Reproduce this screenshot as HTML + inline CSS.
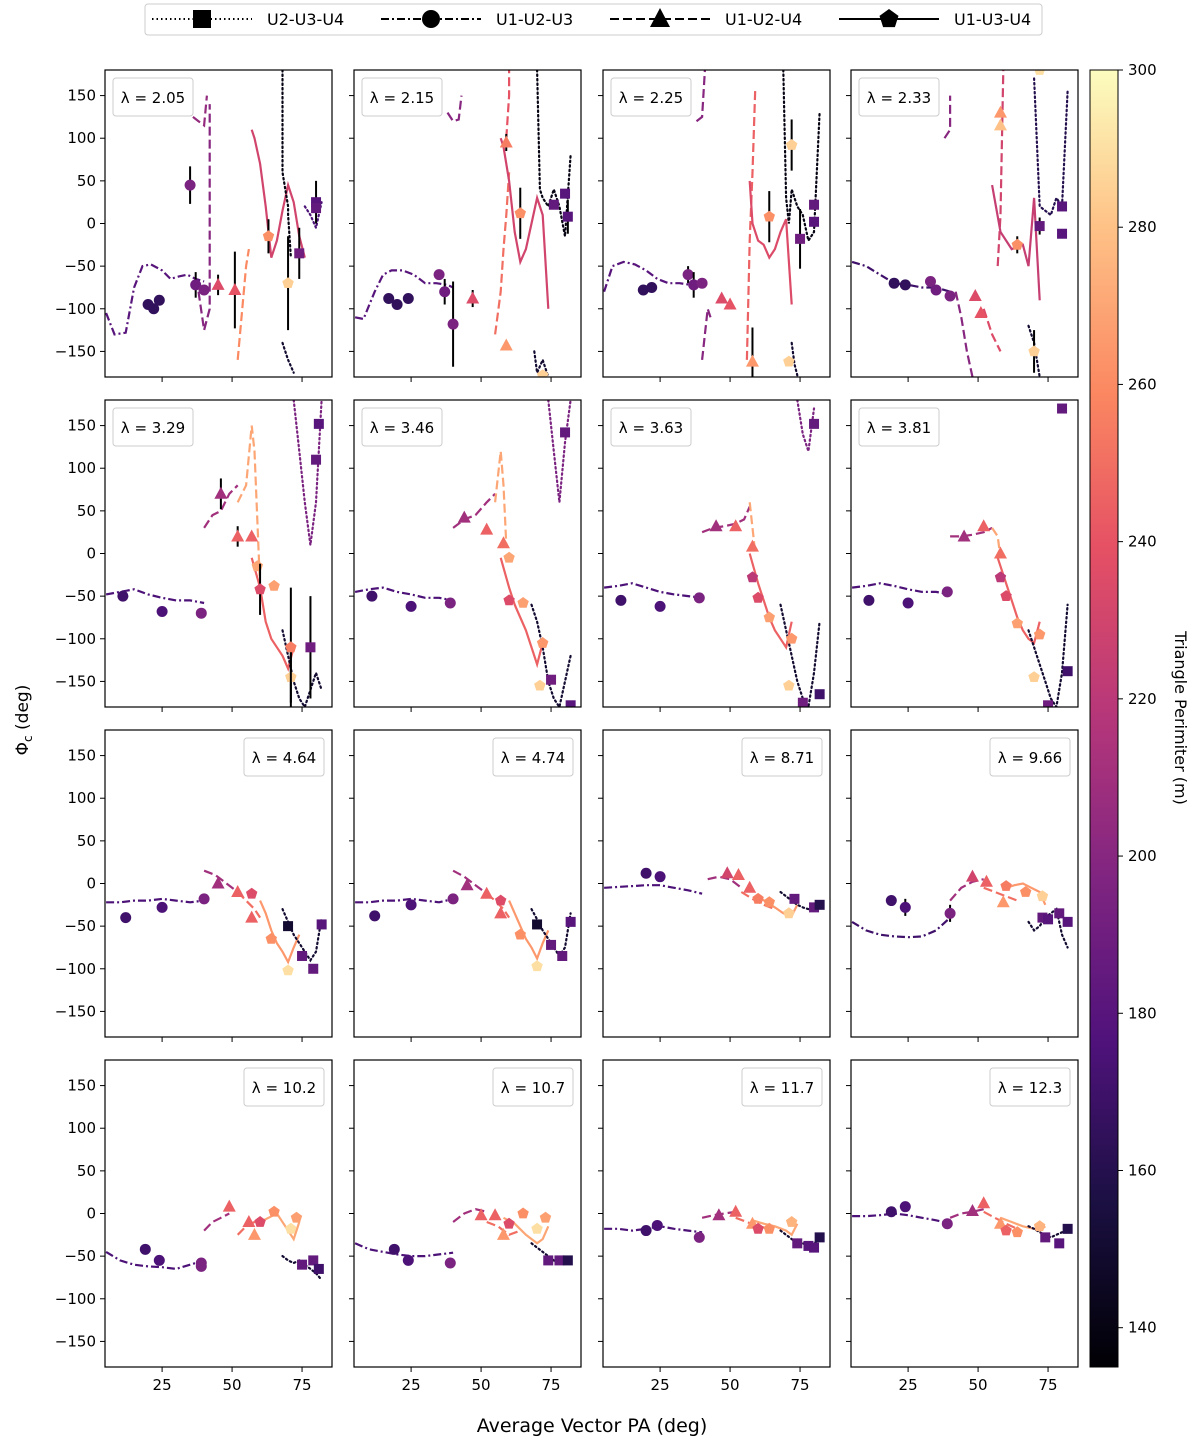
<!DOCTYPE html>
<html><head><meta charset="utf-8">
<style>
body{margin:0;background:#fff;font-family:"Liberation Sans","DejaVu Sans",sans-serif;}
svg text{font-family:"DejaVu Sans","Liberation Sans",sans-serif;}
</style></head>
<body>
<svg id="chart" width="1200" height="1447" viewBox="0 0 1200 1447" xmlns="http://www.w3.org/2000/svg">
<defs>
<linearGradient id="magma" x1="0" y1="1" x2="0" y2="0">
<stop offset="0" stop-color="#000004"/><stop offset="0.13" stop-color="#1c1044"/><stop offset="0.25" stop-color="#4f127b"/><stop offset="0.38" stop-color="#812581"/><stop offset="0.5" stop-color="#b5367a"/><stop offset="0.63" stop-color="#e55064"/><stop offset="0.75" stop-color="#fb8761"/><stop offset="0.88" stop-color="#fec287"/><stop offset="1" stop-color="#fcfdbf"/>
</linearGradient>
</defs>
<g id="root"></g>
</svg>
<script>
const lambdas=["2.05","2.15","2.25","2.33","3.29","3.46","3.63","3.81","4.64","4.74","8.71","9.66","10.2","10.7","11.7","12.3"];
const yTicks=[150,100,50,0,-50,-100,-150];
const xTicks=[25,50,75];
const cbTicks=[140,160,180,200,220,240,260,280,300];
// markers: [PA, phi, perimeter, shape, err]
const markersRow1=[
 [[20,-95,165,'c',0],[22,-100,165,'c',0],[24,-90,165,'c',0],[35,45,195,'c',22],[37,-72,190,'c',15],[40,-78,195,'c',0],[45,-72,235,'t',12],[51,-78,240,'t',45],[63,-15,262,'p',20],[70,-70,285,'p',55],[74,-35,190,'s',30],[80,25,180,'s',25],[80,18,185,'s',0]],
 [[17,-88,165,'c',0],[20,-95,165,'c',0],[24,-88,165,'c',0],[35,-60,195,'c',0],[37,-80,190,'c',15],[40,-118,195,'c',50],[47,-88,235,'t',10],[59,95,255,'t',10],[59,-143,265,'t',0],[64,12,262,'p',30],[72,-178,285,'p',0],[76,22,185,'s',0],[80,35,180,'s',0],[81,8,180,'s',20]],
 [[19,-78,165,'c',0],[22,-75,165,'c',0],[35,-60,195,'c',10],[37,-72,190,'c',15],[40,-70,195,'c',0],[47,-88,235,'t',0],[50,-95,240,'t',0],[58,-162,265,'t',40],[64,8,262,'p',30],[72,92,285,'p',30],[71,-162,285,'p',0],[75,-18,190,'s',35],[80,22,185,'s',0],[80,2,180,'s',0]],
 [[20,-70,165,'c',0],[24,-72,165,'c',0],[33,-68,195,'c',0],[35,-78,190,'c',0],[40,-85,195,'c',0],[49,-85,235,'t',0],[51,-105,240,'t',0],[58,130,265,'t',0],[58,115,280,'t',0],[64,-25,262,'p',10],[70,-150,285,'p',25],[72,180,290,'p',0],[72,-3,185,'s',10],[80,20,180,'s',0],[80,-12,180,'s',0]]
];
const markersRow2=[
 [[11,-50,170,'c',0],[25,-68,175,'c',0],[39,-70,195,'c',0],[46,70,210,'t',18],[52,20,245,'t',12],[57,20,245,'t',0],[59,-15,270,'p',0],[60,-42,235,'p',30],[65,-38,268,'p',0],[71,-145,285,'p',30],[71,-110,255,'p',70],[78,-110,190,'s',60],[80,110,185,'s',0],[81,152,180,'s',0]],
 [[11,-50,170,'c',0],[25,-62,175,'c',0],[39,-58,195,'c',0],[44,42,210,'t',0],[52,28,245,'t',0],[58,12,250,'t',0],[60,-5,270,'p',0],[60,-55,235,'p',0],[65,-58,268,'p',0],[72,-105,265,'p',0],[71,-155,285,'p',0],[75,-148,190,'s',0],[80,142,185,'s',0],[82,-178,180,'s',0]],
 [[11,-55,170,'c',0],[25,-62,175,'c',0],[39,-52,195,'c',0],[45,32,210,'t',0],[52,32,245,'t',0],[58,8,250,'t',0],[58,-28,220,'p',0],[60,-52,235,'p',0],[64,-75,268,'p',0],[72,-100,265,'p',0],[71,-155,285,'p',0],[76,-175,190,'s',0],[80,152,185,'s',0],[82,-165,170,'s',0]],
 [[11,-55,170,'c',0],[25,-58,175,'c',0],[39,-45,195,'c',0],[45,20,210,'t',0],[52,32,245,'t',0],[58,0,250,'t',0],[58,-28,220,'p',0],[60,-50,235,'p',0],[64,-82,268,'p',0],[72,-95,265,'p',0],[70,-145,285,'p',0],[75,-178,190,'s',0],[80,170,185,'s',0],[82,-138,170,'s',0]]
];
const markersRow3=[
 [[12,-40,170,'c',0],[25,-28,175,'c',0],[40,-18,195,'c',0],[45,0,210,'t',0],[52,-10,245,'t',0],[57,-40,245,'t',0],[57,-12,235,'p',0],[64,-65,262,'p',0],[70,-102,290,'p',0],[70,-50,150,'s',0],[75,-85,185,'s',0],[79,-100,185,'s',0],[82,-48,180,'s',0]],
 [[12,-38,170,'c',0],[25,-25,175,'c',0],[40,-18,195,'c',0],[45,-2,210,'t',0],[52,-12,245,'t',0],[57,-35,245,'t',0],[57,-20,235,'p',0],[64,-60,262,'p',0],[70,-97,290,'p',0],[70,-48,150,'s',0],[75,-72,185,'s',0],[79,-85,185,'s',0],[82,-45,180,'s',0]],
 [[20,12,170,'c',0],[25,8,175,'c',0],[49,12,230,'t',0],[53,10,245,'t',0],[57,-5,245,'t',0],[60,-18,255,'p',0],[64,-22,262,'p',0],[71,-35,285,'p',0],[73,-18,185,'s',0],[80,-28,185,'s',0],[82,-25,160,'s',0]],
 [[19,-20,170,'c',0],[24,-28,175,'c',10],[40,-35,195,'c',10],[48,8,230,'t',0],[53,2,245,'t',0],[59,-22,265,'t',0],[60,-3,255,'p',0],[67,-10,262,'p',0],[73,-15,285,'p',0],[73,-40,185,'s',0],[75,-42,180,'s',0],[79,-35,185,'s',0],[82,-45,180,'s',0]]
];
const markersRow4=[
 [[19,-42,170,'c',0],[24,-55,175,'c',0],[39,-58,195,'c',0],[39,-62,195,'c',0],[49,8,245,'t',0],[56,-10,245,'t',0],[58,-25,265,'t',0],[60,-10,235,'p',0],[65,2,262,'p',0],[71,-18,290,'p',0],[73,-5,268,'p',0],[75,-60,185,'s',0],[79,-55,185,'s',0],[81,-65,170,'s',0]],
 [[19,-42,170,'c',0],[24,-55,175,'c',0],[39,-58,195,'c',0],[50,-2,245,'t',0],[55,-2,245,'t',0],[58,-25,265,'t',0],[60,-12,235,'p',0],[65,0,262,'p',0],[70,-18,290,'p',0],[73,-5,268,'p',0],[74,-55,185,'s',0],[78,-55,185,'s',0],[81,-55,160,'s',0]],
 [[20,-20,170,'c',0],[24,-14,175,'c',0],[39,-28,195,'c',0],[46,-2,210,'t',0],[52,2,245,'t',0],[58,-12,265,'t',0],[60,-18,235,'p',0],[64,-18,262,'p',0],[72,-10,275,'p',0],[74,-35,185,'s',0],[78,-38,180,'s',0],[80,-40,180,'s',0],[82,-28,160,'s',0]],
 [[19,2,170,'c',0],[24,8,175,'c',0],[39,-12,195,'c',0],[48,3,210,'t',0],[52,12,245,'t',0],[58,-12,265,'t',0],[60,-20,245,'p',0],[64,-22,262,'p',0],[72,-15,275,'p',0],[74,-28,185,'s',0],[79,-35,180,'s',0],[82,-18,160,'s',0]]
];
const markers=[...markersRow1,...markersRow2,...markersRow3,...markersRow4];
// curves: [style, perimeter, xs, ys]
const curvesA=[
 [['dd',180,[5,8,12,15,18,21,25,28,31,34,37,40],[-105,-130,-128,-75,-50,-48,-55,-65,-62,-60,-65,-68]],['da',200,[38,40,42,42],[-80,-125,-100,140]],['da',205,[36,38,40,41],[125,120,115,150]],['da',260,[52,55,56],[-160,-50,-30]],['so',230,[57,58,60,62,64,66,68,70,72,74,76],[110,100,70,20,-40,-20,15,45,25,-15,-40]],['do',140,[68,68,70,70,71],[180,60,20,10,-40]],['do',150,[68,70,72],[-140,-160,-175]],['do',175,[76,78,80,82],[20,10,-5,25]]],
 [['dd',180,[5,8,12,15,18,22,26,30,34,38,40],[-110,-112,-80,-60,-55,-55,-60,-70,-70,-72,-75]],['da',200,[38,40,42,43],[130,120,122,150]],['da',250,[55,57,58,59,60],[-130,-80,-30,10,60]],['da',240,[59,60,60],[100,150,180]],['so',230,[57,58,60,62,64,66,68,70,72,74],[100,90,50,-10,-45,-30,0,30,10,-100]],['do',140,[70,71,72,74,76,78,80,82],[180,40,30,20,40,20,-15,80]],['do',150,[69,70,72,74],[-150,-175,-160,-180]]],
 [['dd',180,[5,8,12,16,20,24,28,32,36,40],[-80,-50,-45,-48,-55,-65,-70,-70,-72,-70]],['da',200,[38,40,41],[120,125,180]],['da',200,[40,42,43],[-160,-100,-110]],['da',245,[56,57,58,59],[-160,-20,60,160]],['so',235,[57,58,60,62,64,66,68,70,72],[50,0,-20,-25,-40,-30,-10,5,-95]],['do',140,[69,70,71,72,74,76,78,80,82],[180,30,0,40,20,10,-20,-10,130]],['do',150,[72,73,74],[-140,-165,-178]]],
 [['dd',170,[5,10,15,20,25,30,35,40],[-45,-50,-60,-70,-72,-75,-75,-80]],['da',200,[38,40,40],[100,110,150]],['da',200,[42,44,46,48],[-80,-110,-150,-180]],['da',235,[52,55,58],[-100,-130,-150]],['da',230,[57,58,59],[-50,10,180]],['so',225,[55,58,62,66,68,70,72],[45,-10,-30,-25,-50,30,-90]],['do',150,[68,70,72],[-120,-140,-180]],['do',160,[70,72,74,76,78,80,82],[170,20,15,10,30,20,155]]],
 [['dd',175,[5,10,15,20,25,30,35,40],[-48,-45,-42,-48,-52,-55,-55,-58]],['da',210,[40,43,46,49,52],[30,45,50,70,80]],['da',270,[52,55,57,58,60],[60,80,150,120,-40]],['so',245,[57,60,62,64,66,68,70,72],[-5,-40,-80,-100,-110,-120,-135,-110]],['do',150,[68,70,72,74,76,78,80,82],[-90,-120,-150,-170,-180,-160,-140,-160]],['do',195,[72,74,76,78,80,82],[180,120,60,10,60,180]]],
 [['dd',175,[5,10,15,20,25,30,35,40],[-45,-42,-40,-45,-48,-52,-52,-55]],['da',210,[40,44,48,52,55],[30,40,45,60,70]],['da',270,[55,57,58,59],[60,120,80,10]],['so',245,[57,60,62,64,66,68,70,72],[-5,-40,-60,-75,-90,-110,-130,-105]],['do',150,[68,70,72,74,76,78,80,82],[-60,-80,-110,-150,-170,-180,-150,-120]],['do',195,[74,76,78,80,82],[180,120,60,130,180]]],
 [['dd',175,[5,10,15,20,25,30,35,40],[-40,-38,-35,-40,-45,-48,-50,-52]],['da',210,[40,44,48,52,55,57],[25,30,32,35,40,55]],['da',270,[57,58,59],[60,30,0]],['so',245,[57,60,62,64,66,68,70,72],[0,-35,-55,-75,-90,-100,-110,-80]],['do',150,[68,70,72,74,76,78,80,82],[-60,-90,-120,-150,-170,-180,-140,-80]],['do',195,[74,76,78,80],[180,140,120,170]]],
 [['dd',175,[5,10,15,20,25,30,35,40],[-40,-38,-35,-38,-42,-45,-45,-48]],['da',210,[40,44,48,52,55],[20,20,22,25,30]],['da',270,[55,57,58],[30,20,-5]],['so',245,[57,60,62,64,66,68,70,72],[-5,-35,-55,-75,-90,-100,-105,-80]],['do',150,[68,70,72,74,76,78,80,82],[-90,-110,-130,-150,-170,-180,-140,-60]]],
 [['dd',175,[5,10,15,20,25,30,35,40],[-22,-22,-20,-20,-18,-20,-22,-20]],['da',210,[40,44,48,52],[15,10,0,-10]],['da',250,[52,55,58,60],[-10,-20,-30,-40]],['so',265,[60,62,64,66,68,70,72,74],[-20,-35,-55,-70,-80,-92,-75,-60]],['do',150,[68,70,72,74,76,78,80,82],[-30,-45,-60,-70,-80,-90,-80,-40]]],
 [['dd',175,[5,10,15,20,25,30,35,40],[-22,-22,-20,-20,-18,-20,-22,-18]],['da',210,[40,44,48,52],[15,8,-2,-12]],['da',250,[52,55,58,60],[-12,-20,-30,-40]],['so',265,[60,62,64,66,68,70,72,74],[-20,-35,-50,-65,-75,-88,-70,-55]],['do',150,[68,70,72,74,76,78,80,82],[-30,-42,-55,-65,-75,-85,-75,-35]]],
 [['dd',175,[5,10,15,20,25,30,35,40],[-5,-4,-3,-2,-2,-5,-8,-12]],['da',210,[42,46,50,54],[5,8,5,-5]],['da',250,[54,58,62,66],[-10,-18,-25,-30]],['so',265,[60,63,66,69,72,74],[-15,-22,-28,-35,-38,-25]],['do',150,[68,70,72,74,76,78,80,82],[-10,-15,-20,-25,-28,-30,-25,-22]]],
 [['dd',170,[5,10,15,20,25,30,35,40],[-45,-55,-60,-62,-63,-62,-55,-40]],['da',210,[40,44,48,52],[-20,-5,2,5]],['da',250,[52,56,60,64],[-5,-10,-15,-20]],['so',265,[60,63,66,69,72,74],[-5,-2,0,-5,-10,-25]],['do',150,[68,70,72,74,76,78,80,82],[-45,-55,-50,-40,-35,-30,-60,-75]]],
 [['dd',175,[5,10,15,20,25,30,35,40],[-45,-55,-60,-62,-63,-65,-60,-55]],['da',210,[40,43,46,49],[-20,-10,-5,0]],['da',250,[52,55,58,60],[-25,-15,-10,-5]],['so',270,[60,63,66,69,72,74],[-10,-5,0,-15,-30,-10]],['do',150,[68,70,72,74,76,78,80,82],[-50,-55,-58,-55,-60,-65,-70,-78]]],
 [['dd',175,[5,10,15,20,25,30,35,40],[-35,-42,-45,-48,-50,-50,-48,-46]],['da',210,[40,44,48,52],[-10,0,5,2]],['da',250,[52,56,60,64],[-10,-15,-25,-20]],['so',270,[58,62,66,70,72,74],[-5,-12,-25,-35,-30,-15]],['do',150,[68,70,72,74,76,78,80,82],[-35,-40,-45,-50,-55,-58,-55,-58]]],
 [['dd',175,[5,10,15,20,25,30,35,40],[-18,-18,-20,-18,-15,-18,-20,-22]],['da',210,[40,44,48,52],[-5,-2,0,2]],['da',250,[52,56,60,64],[-5,-10,-15,-18]],['so',270,[58,62,66,70,72,74],[-8,-12,-15,-20,-25,-12]],['do',150,[68,70,72,74,76,78,80,82],[-20,-25,-30,-35,-35,-38,-35,-30]]],
 [['dd',175,[5,10,15,20,25,30,35,40],[-3,-3,-2,0,-2,-5,-8,-12]],['da',210,[40,44,48,52],[-5,0,2,5]],['da',250,[52,56,60,64],[2,-5,-12,-18]],['so',270,[58,62,66,70,72,74],[-5,-10,-15,-18,-20,-15]],['do',150,[68,70,72,74,76,78,80,82],[-15,-18,-22,-25,-28,-25,-22,-20]]]
];
const colX=[105,354,603,851], rowY=[70,400,730,1060], PW=227, PH=307;
const XMIN=4.6, XMAX=85.7, YMIN=-180, YMAX=180;
const PMIN=135, PMAX=300;
const NS='http://www.w3.org/2000/svg';
const root=document.getElementById('root');
const stops=[[0,[0,0,4]],[0.13,[28,16,68]],[0.25,[79,18,123]],[0.38,[129,37,129]],[0.5,[181,54,122]],[0.63,[229,80,100]],[0.75,[251,135,97]],[0.88,[254,194,135]],[1,[252,253,191]]];
function cmap(p){let t=Math.max(0,Math.min(1,(p-PMIN)/(PMAX-PMIN)));for(let i=1;i<stops.length;i++){if(t<=stops[i][0]){const a=stops[i-1],b=stops[i],f=(t-a[0])/(b[0]-a[0]);const c=a[1].map((v,k)=>Math.round(v+(b[1][k]-v)*f));return `rgb(${c})`;}}return 'rgb(252,253,191)';}
function mk(tag,attrs,parent){const e=document.createElementNS(NS,tag);for(const k in attrs)e.setAttribute(k,attrs[k]);(parent||root).appendChild(e);return e;}
function txt(s,attrs,parent){const e=mk('text',attrs,parent);e.textContent=s;return e;}
const dashes={dd:'8,3,2,3',da:'9,4',so:'',do:'1.5,3'};
for(let i=0;i<16;i++){
 const r=Math.floor(i/4),c=i%4,x0=colX[c],y0=rowY[r];
 const sx=v=>x0+(v-XMIN)/(XMAX-XMIN)*PW;
 const sy=v=>y0+(YMAX-v)/(YMAX-YMIN)*PH;
 const g=mk('g',{});
 
 
 const cp='clip'+i;
 const cl=mk('clipPath',{id:cp},g);mk('rect',{x:x0,y:y0,width:PW,height:PH},cl);
 const plot=mk('g',{'clip-path':`url(#${cp})`},g);
 for(const cv of curvesA[i]){
  const pts=cv[2].map((x,k)=>sx(x).toFixed(1)+','+sy(cv[3][k]).toFixed(1)).join(' ');
  const pl=mk('polyline',{points:pts,fill:'none',stroke:cmap(cv[1]),'stroke-width':2.2,'stroke-dasharray':dashes[cv[0]],'stroke-linecap':cv[0]==='do'?'round':'butt'},plot);
  
  
 }
 for(const m of markers[i]){
  const X=sx(m[0]),Y=sy(m[1]),col=cmap(m[2]);
  if(m[4]>0){mk('line',{x1:X,x2:X,y1:sy(m[1]+m[4]),y2:sy(m[1]-m[4]),stroke:'#000','stroke-width':2},plot);}
  let e;
  if(m[3]==='c')e=mk('circle',{cx:X,cy:Y,r:5.5,fill:col},plot);
  else if(m[3]==='s')e=mk('rect',{x:X-5,y:Y-5,width:10,height:10,fill:col},plot);
  else if(m[3]==='t')e=mk('polygon',{points:`${X},${Y-7} ${X+6.5},${Y+5} ${X-6.5},${Y+5}`,fill:col},plot);
  else {const p=[];for(let k=0;k<5;k++){const a=-Math.PI/2+k*2*Math.PI/5;p.push((X+6*Math.cos(a)).toFixed(1)+','+(Y+6*Math.sin(a)).toFixed(1));}e=mk('polygon',{points:p.join(' '),fill:col},plot);}
  
  
 }
 const fr=mk('rect',{x:x0,y:y0,width:PW,height:PH,fill:'none',stroke:'#000','stroke-width':1.2},g);
 
 
 for(const t of yTicks){const Y=sy(t);mk('line',{x1:x0-5,x2:x0,y1:Y,y2:Y,stroke:'#000'},g);
  if(c===0){const tl=txt(String(t).replace('-','\u2212'),{x:x0-9,y:Y+5,'text-anchor':'end','font-size':15,fill:'#000'},g);}}
 for(const t of xTicks){const X=sx(t);mk('line',{x1:X,x2:X,y1:y0+PH,y2:y0+PH+5,stroke:'#000'},g);
  if(r===3){const tl=txt(String(t),{x:X,y:y0+PH+23,'text-anchor':'middle','font-size':15,fill:'#000'},g);}}
 const bw=80,bh=38,bx=r<2?x0+8:x0+PW-8-bw,by=y0+8;
 const lb=mk('rect',{x:bx,y:by,width:bw,height:bh,rx:3,fill:'#fff','fill-opacity':0.8,stroke:'#ccc'},g);
 
 
 const lt=txt('\u03bb = '+lambdas[i],{x:bx+bw/2,y:by+25,'text-anchor':'middle','font-size':15,fill:'#000'},g);
 
 
}
// colorbar
const cbX=1090,cbY=70,cbW=28,cbH=1297;
const cb=mk('rect',{x:cbX,y:cbY,width:cbW,height:cbH,fill:'url(#magma)',stroke:'#000','stroke-width':1});


for(const t of cbTicks){const Y=cbY+cbH-(t-PMIN)/(PMAX-PMIN)*cbH;mk('line',{x1:cbX+cbW,x2:cbX+cbW+5,y1:Y,y2:Y,stroke:'#000'});
 const tl=txt(String(t),{x:cbX+cbW+10,y:Y+5,'font-size':15,fill:'#000'});}
const cbt=txt('Triangle Perimiter (m)',{x:1175,y:718,'text-anchor':'middle','font-size':16,transform:'rotate(90 1175 718)',fill:'#000'});


const yl=txt('',{x:28,y:720,'text-anchor':'middle','font-size':17,transform:'rotate(-90 28 720)',fill:'#000'});
yl.innerHTML='\u03a6<tspan font-size="12" dy="4">c</tspan><tspan dy="-4"> (deg)</tspan>';


const xl=txt('Average Vector PA (deg)',{x:592,y:1432,'text-anchor':'middle','font-size':19,fill:'#000'});


// legend
const lg=mk('g',{});


mk('rect',{x:145,y:4,width:897,height:31,rx:3,fill:'#fff',stroke:'#ccc'},lg);
const legNames=['U2-U3-U4','U1-U2-U3','U1-U2-U4','U1-U3-U4'],legStyle=['do','dd','da','so'],legShape=['s','c','t','p'];
for(let k=0;k<4;k++){
 const lx=152+k*229,ly=19;
 const eg=mk('g',{},lg);
 
 
 mk('line',{x1:lx,x2:lx+100,y1:ly,y2:ly,stroke:'#000','stroke-width':2,'stroke-dasharray':dashes[legStyle[k]]},eg);
 const X=lx+50,Y=ly;
 if(legShape[k]==='s')mk('rect',{x:X-9,y:Y-9,width:18,height:18,fill:'#000'},eg);
 else if(legShape[k]==='c')mk('circle',{cx:X,cy:Y,r:9,fill:'#000'},eg);
 else if(legShape[k]==='t')mk('polygon',{points:`${X},${Y-11} ${X+10},${Y+8} ${X-10},${Y+8}`,fill:'#000'},eg);
 else{const p=[];for(let j=0;j<5;j++){const a=-Math.PI/2+j*2*Math.PI/5;p.push((X+10*Math.cos(a)).toFixed(1)+','+(Y+10*Math.sin(a)).toFixed(1));}mk('polygon',{points:p.join(' '),fill:'#000'},eg);}
 txt(legNames[k],{x:lx+115,y:ly+6,'font-size':16,fill:'#000'},eg);
}
</script>
</body></html>
